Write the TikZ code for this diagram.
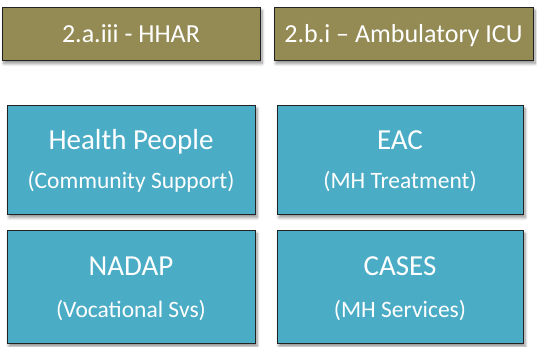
\documentclass[tikz,border=0pt]{standalone}
\usepackage{fontspec}
\setmainfont{Carlito}
\usetikzlibrary{shadows.blur}
\definecolor{olivebox}{HTML}{948A54}
\definecolor{aquabox}{HTML}{4BACC6}
\definecolor{edgec}{HTML}{222222}
\begin{document}
\begin{tikzpicture}[x=1pt,y=-1pt,
  boxbase/.style={draw=edgec, line width=0.9pt, inner sep=0pt,
    blur shadow={shadow xshift=2pt, shadow yshift=-3.5pt, shadow blur radius=3pt, shadow blur steps=6, shadow opacity=45}},
  olivebox/.style={boxbase, fill=olivebox},
  aquabox/.style={boxbase, fill=aquabox},
  ttl/.style={text=white, anchor=base, font=\fontsize{26}{30}\selectfont, inner sep=0pt},
  head/.style={text=white, anchor=base, font=\fontsize{29}{33}\selectfont, inner sep=0pt},
  sub/.style={text=white, anchor=base, font=\fontsize{23.5}{27}\selectfont, inner sep=0pt}]
\useasboundingbox (0,0) rectangle (537,347);
% top olive boxes
\node[olivebox, minimum width=258pt, minimum height=53pt] (hhar) at (131,33.5) {};
\node[olivebox, minimum width=259pt, minimum height=53pt] (icu) at (403.5,33.5) {};
\node[ttl] (hhart) at (131,43) {2.a.iii - HHAR};
\node[ttl] (icut) at (403.5,43) {2.b.i – Ambulatory ICU};
% aqua boxes
\node[aquabox, minimum width=248pt, minimum height=109pt] (hp) at (131,159.5) {};
\node[aquabox, minimum width=246pt, minimum height=109pt] (eac) at (400,159.5) {};
\node[aquabox, minimum width=248pt, minimum height=113pt] (nadap) at (131,286.5) {};
\node[aquabox, minimum width=246pt, minimum height=113pt] (cases) at (400,286.5) {};
\node[head] (hph) at (131,150) {Health People};
\node[sub] (hps) at (131,189) {(Community Support)};
\node[head] (each) at (400,150) {EAC};
\node[sub] (eacs) at (400,189) {(MH Treatment)};
\node[head] (nadaph) at (131,275) {NADAP};
\node[sub] (nadaps) at (131,317) {(Vocational Svs)};
\node[head] (casesh) at (400,275) {CASES};
\node[sub] (casess) at (400,317) {(MH Services)};
\end{tikzpicture}
\end{document}
